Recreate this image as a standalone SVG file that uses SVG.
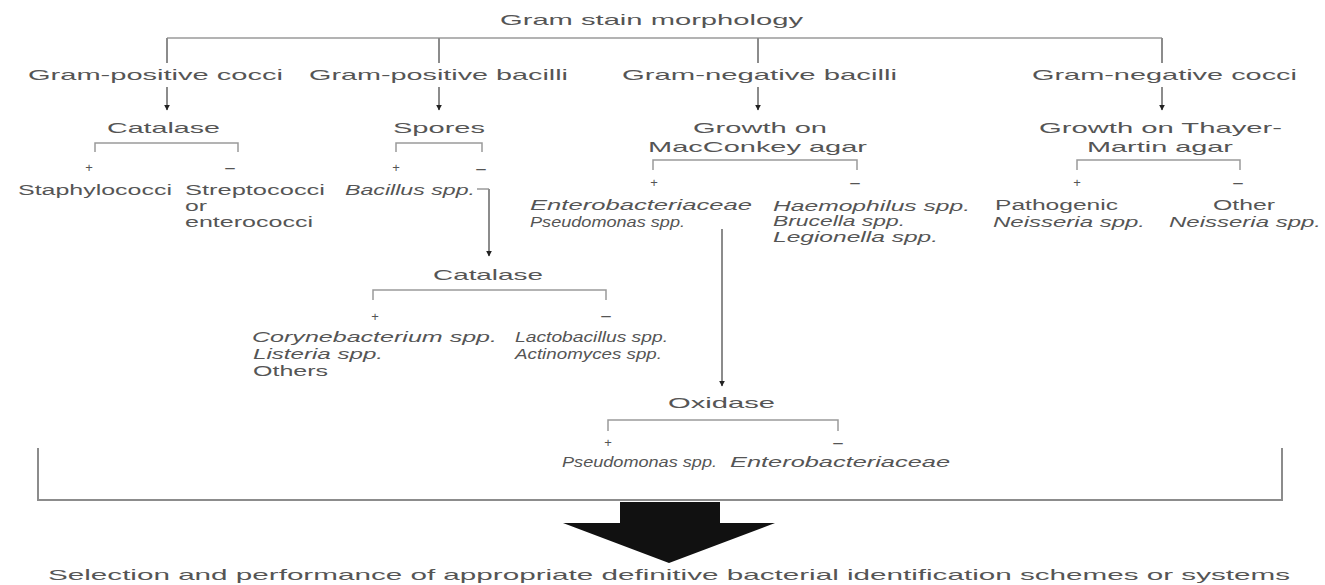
<svg xmlns="http://www.w3.org/2000/svg" width="1325" height="585" viewBox="0 0 1325 585">
<style>
.t{font-family:"Liberation Sans",Arial,sans-serif;font-size:15px;fill:#555}
.s{font-size:14px}
.i{font-style:italic}
.sg{font-family:"Liberation Sans",Arial,sans-serif;font-size:13px;fill:#555;text-anchor:middle}
.mn{font-size:17px}
.ln{stroke:#8c8c8c;stroke-width:2;fill:none}
.hl{stroke:#9a9a9a;stroke-width:1.5;fill:none}
.ar{stroke:#8c8c8c;stroke-width:2;fill:none;marker-end:url(#ah)}
</style>
<defs>
<marker id="ah" viewBox="0 0 10 10" refX="9" refY="5" markerWidth="6" markerHeight="6" markerUnits="userSpaceOnUse" orient="auto"><path d="M0,0 L10,5 L0,10 z" fill="#222"/></marker>
</defs>
<rect width="1325" height="585" fill="#fff"/>

<g id="connectors">
  <path class="hl" d="M167,38 H1162"/>
  <path class="ln" d="M167,38 V63 M439,38 V63 M758,38 V63 M1162,38 V63"/>
  <path class="ar" d="M167,87 V110"/>
  <path class="ar" d="M439,87 V110"/>
  <path class="ar" d="M758,87 V110"/>
  <path class="ar" d="M1162,87 V110"/>
  <path class="hl" d="M95,152 V143 H238 V152"/>
  <path class="hl" d="M396,152 V143 H482 V152"/>
  <path class="hl" d="M653,170 V160 H857 V170"/>
  <path class="hl" d="M1077,170 V160 H1240 V170"/>
  <path class="hl" d="M477,189 H489"/>
  <path class="ar" d="M489,189 V256"/>
  <path class="hl" d="M373,300 V290 H606 V300"/>
  <path class="ar" d="M722,229 V386"/>
  <path class="hl" d="M608,431 V420 H838 V431"/>
  <path class="ln" d="M38,448 V500 H1282 V448"/>
  <polygon points="620,502 720,502 720,523 775,523 669,563 563,523 620,523" fill="#111"/>
</g>

<g id="root"><text class="t" x="500" y="25" textLength="303" lengthAdjust="spacingAndGlyphs">Gram stain morphology</text></g>

<g id="gpc"><text class="t" x="28" y="80" textLength="255" lengthAdjust="spacingAndGlyphs">Gram-positive cocci</text></g>
<g id="gpb"><text class="t" x="309" y="80" textLength="259" lengthAdjust="spacingAndGlyphs">Gram-positive bacilli</text></g>
<g id="gnb"><text class="t" x="622" y="80" textLength="275" lengthAdjust="spacingAndGlyphs">Gram-negative bacilli</text></g>
<g id="gnc"><text class="t" x="1032" y="80" textLength="265" lengthAdjust="spacingAndGlyphs">Gram-negative cocci</text></g>

<g id="catalase1"><text class="t" x="107" y="133" textLength="113" lengthAdjust="spacingAndGlyphs">Catalase</text></g>
<g id="spores"><text class="t" x="393" y="133" textLength="92" lengthAdjust="spacingAndGlyphs">Spores</text></g>
<g id="macconkey">
  <text class="t" x="693" y="133" textLength="134" lengthAdjust="spacingAndGlyphs">Growth on</text>
  <text class="t" x="648" y="152" textLength="219" lengthAdjust="spacingAndGlyphs">MacConkey agar</text>
</g>
<g id="thayer">
  <text class="t" x="1039" y="133" textLength="243" lengthAdjust="spacingAndGlyphs">Growth on Thayer-</text>
  <text class="t" x="1087" y="152" textLength="146" lengthAdjust="spacingAndGlyphs">Martin agar</text>
</g>

<g id="signs">
  <text class="sg" x="89" y="172">+</text><text class="sg mn" x="230" y="173">–</text>
  <text class="sg" x="396" y="172">+</text><text class="sg mn" x="481" y="174">–</text>
  <text class="sg" x="654" y="187">+</text><text class="sg mn" x="855" y="188">–</text>
  <text class="sg" x="1077" y="187">+</text><text class="sg mn" x="1238" y="188">–</text>
  <text class="sg" x="375" y="321">+</text><text class="sg mn" x="606" y="321">–</text>
  <text class="sg" x="608" y="447">+</text><text class="sg mn" x="838" y="448">–</text>
</g>

<g id="staph"><text class="t s" x="18" y="195" textLength="154" lengthAdjust="spacingAndGlyphs">Staphylococci</text></g>
<g id="strep">
  <text class="t s" x="185" y="195" textLength="140" lengthAdjust="spacingAndGlyphs">Streptococci</text>
  <text class="t s" x="185" y="211" textLength="22" lengthAdjust="spacingAndGlyphs">or</text>
  <text class="t s" x="185" y="227" textLength="128" lengthAdjust="spacingAndGlyphs">enterococci</text>
</g>
<g id="bacillus"><text class="t s i" x="345" y="195" textLength="130" lengthAdjust="spacingAndGlyphs">Bacillus spp.</text></g>

<g id="entero1">
  <text class="t s i" x="530" y="210" textLength="222" lengthAdjust="spacingAndGlyphs">Enterobacteriaceae</text>
  <text class="t s i" x="530" y="227" textLength="155" lengthAdjust="spacingAndGlyphs">Pseudomonas spp.</text>
</g>
<g id="haemo">
  <text class="t s i" x="773" y="211" textLength="197" lengthAdjust="spacingAndGlyphs">Haemophilus spp.</text>
  <text class="t s i" x="773" y="226" textLength="132" lengthAdjust="spacingAndGlyphs">Brucella spp.</text>
  <text class="t s i" x="773" y="242" textLength="165" lengthAdjust="spacingAndGlyphs">Legionella spp.</text>
</g>
<g id="pathogenic">
  <text class="t s" x="995" y="210" textLength="123" lengthAdjust="spacingAndGlyphs">Pathogenic</text>
  <text class="t s i" x="993" y="227" textLength="152" lengthAdjust="spacingAndGlyphs">Neisseria spp.</text>
</g>
<g id="other">
  <text class="t s" x="1213" y="210" textLength="62" lengthAdjust="spacingAndGlyphs">Other</text>
  <text class="t s i" x="1169" y="227" textLength="152" lengthAdjust="spacingAndGlyphs">Neisseria spp.</text>
</g>

<g id="catalase2"><text class="t" x="433" y="280" textLength="110" lengthAdjust="spacingAndGlyphs">Catalase</text></g>
<g id="coryne">
  <text class="t s i" x="252" y="342" textLength="245" lengthAdjust="spacingAndGlyphs">Corynebacterium spp.</text>
  <text class="t s i" x="253" y="359" textLength="130" lengthAdjust="spacingAndGlyphs">Listeria spp.</text>
  <text class="t s" x="253" y="376" textLength="75" lengthAdjust="spacingAndGlyphs">Others</text>
</g>
<g id="lacto">
  <text class="t s i" x="515" y="342" textLength="153" lengthAdjust="spacingAndGlyphs">Lactobacillus spp.</text>
  <text class="t s i" x="515" y="359" textLength="147" lengthAdjust="spacingAndGlyphs">Actinomyces spp.</text>
</g>

<g id="oxidase"><text class="t" x="668" y="408" textLength="107" lengthAdjust="spacingAndGlyphs">Oxidase</text></g>
<g id="pseudo2"><text class="t s i" x="562" y="467" textLength="155" lengthAdjust="spacingAndGlyphs">Pseudomonas spp.</text></g>
<g id="entero2"><text class="t s i" x="730" y="467" textLength="220" lengthAdjust="spacingAndGlyphs">Enterobacteriaceae</text></g>

<g id="selection"><text class="t" x="48" y="580" textLength="1242" lengthAdjust="spacingAndGlyphs">Selection and performance of appropriate definitive bacterial identification schemes or systems</text></g>
</svg>
